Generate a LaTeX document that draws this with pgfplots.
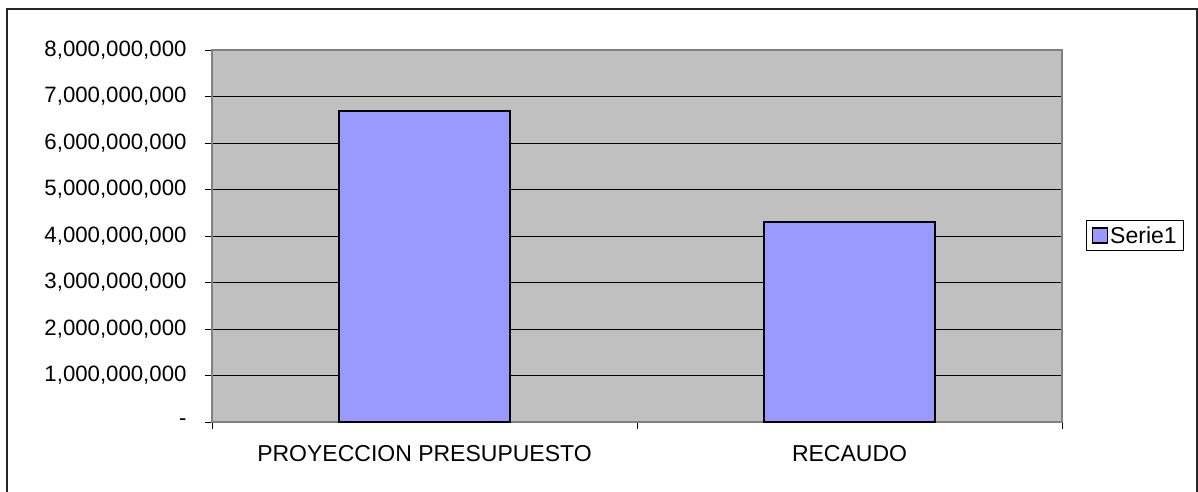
\documentclass[border=0pt]{standalone}
\usepackage{pgfplots}
\pgfplotsset{compat=1.18}
\usepackage{fontspec}
\setmainfont{Liberation Sans}
\definecolor{barblue}{HTML}{9999FF}
\definecolor{plotgray}{HTML}{C0C0C0}
\definecolor{axgray}{HTML}{808080}
\begin{document}
\begin{tikzpicture}[x=1pt,y=1pt]
\useasboundingbox (0pt,0pt) rectangle (1198pt,491pt);
\fill[white] (0pt,0pt) rectangle (1198pt,491pt);
\draw[line width=1.5pt, black!85] (7pt,-5pt) rectangle (1197pt,482pt);
\begin{axis}[
  at={(212pt,69pt)}, anchor=south west,
  scale only axis, width=850pt, height=372pt,
  xmin=-0.5, xmax=1.5, ymin=0, ymax=8000000000,
  scaled y ticks=false,
  axis background/.style={fill=plotgray},
  axis line style={draw=axgray, line width=1.5pt},
  xtick pos=bottom, ytick pos=left,
  ytick={0,1000000000,2000000000,3000000000,4000000000,5000000000,6000000000,7000000000,8000000000},
  yticklabels={-,{1,000,000,000},{2,000,000,000},{3,000,000,000},{4,000,000,000},{5,000,000,000},{6,000,000,000},{7,000,000,000},{8,000,000,000}},
  xtick={-0.5,0.5,1.5},
  x tick label as interval=true,
  xticklabels={PROYECCION PRESUPUESTO,RECAUDO},
  ymajorgrids, major grid style={black, line width=0.8pt},
  tick align=outside, major tick length=7pt,
  tick style={black, line width=0.8pt},
  yticklabel style={font=\fontsize{22.2}{25}\selectfont, xshift=-15pt},
  xticklabel style={font=\fontsize{23}{26}\selectfont, yshift=-13pt},
  legend style={at={(1.0285,0.501)}, anchor=west, draw=black, line width=0.8pt,
    font=\fontsize{23}{26}\selectfont, inner xsep=5pt, inner ysep=4pt},
  legend image code/.code={\draw[fill=barblue, draw=black, line width=1.6pt] (0pt,-7.5pt) rectangle (15pt,7.5pt);},
  legend cell align=left,
]
\addplot[ybar, bar width=0.402, fill=barblue, draw=black, line width=2pt]
  coordinates {(0,6690000000) (1,4300000000)};
\addlegendentry{Serie1}
\end{axis}
\end{tikzpicture}
\end{document}
